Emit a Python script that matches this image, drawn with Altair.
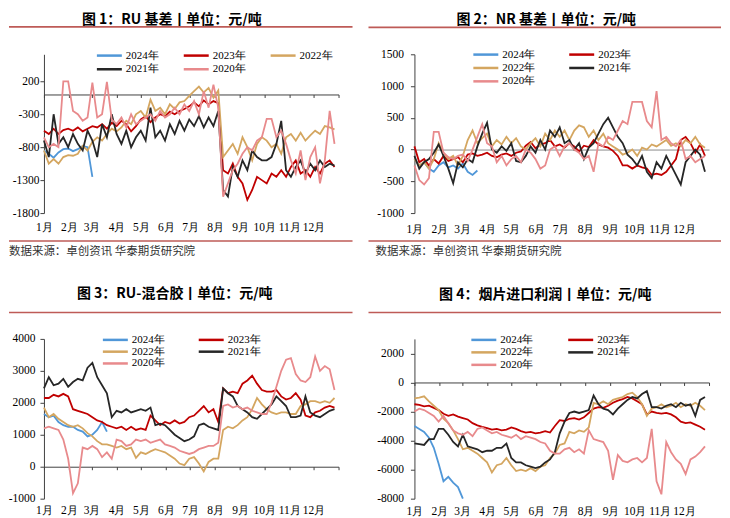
import altair as alt
import pandas as pd

# ---------------- data ----------------
DAYS = list(range(0, 361, 6))  # day of year, every 6 days
YEARS = ["2024年", "2023年", "2022年", "2021年", "2020年"]
COLORS = ["#5097D8", "#C00000", "#D4A660", "#262626", "#E88A8C"]
MONTH_STARTS = [0, 31, 59, 90, 120, 151, 181, 212, 243, 273, 304, 334]
MONTH_NAMES = ["1月", "2月", "3月", "4月", "5月", "6月", "7月", "8月", "9月", "10月", "11月", "12月"]

# 图1 RU基差
RU_2024 = [-850, -900, -960, -880, -830, -820, -860, -830, -780, -800, -1250]
RU_2023 = [
    -550, -600, -520, -600, -540, -520, -550, -500, -560, -520,
    -480, -500, -450, -520, -430, -480, -400, -450, -560, -480,
    -380, -330, -420, -350, -300, -330, -260, -300, -250, -220,
    -180, -120, -180, -90, -150, -100, -130, -1150, -1200, -1050,
    -1250, -1350, -1600, -1450, -1250, -1300, -1350, -1200, -1250, -1150,
    -1250, -1100, -1000, -1200, -1150, -1250, -1100, -1200, -1050, -1000,
    -1100]
RU_2022 = [
    -850, -1050, -980, -1050, -950, -920, -930, -900, -780, -850,
    -720, -650, -700, -600, -520, -560, -500, -400, -450, -300,
    -250, -350, -80, -250, -200, -300, -150, -220, -120, -100,
    -20, 50, 120, 30, 100, -50, 60, -950, -850, -750,
    -900, -650, -800, -1000, -750, -650, -700, -800, -750, -900,
    -650, -600, -700, -580, -700, -620, -550, -600, -480, -500,
    -530]
RU_2021 = [
    -700, -950, -300, -750, -650, -800, -600, -750, -850, -550,
    -700, -950, -450, -650, -300, -600, -750, -550, -800, -650,
    -550, -700, -200, -650, -550, -700, -450, -600, -400, -550,
    -380, -480, -330, -500, -350, -480, -250, -1450, -1550, -1100,
    -1250, -1000, -1150, -850, -950, -1000, -1000, -950, -750, -400,
    -1150, -1250, -1100, -1000, -1200, -1050, -1150, -1000, -1100, -1050,
    -1080]
RU_2020 = [
    -650, -800, -750, -800, 200, 200, -250, -300, -400, -350,
    180, -350, -300, 190, -380, -450, -350, -500, -300, -450,
    -400, -350, -300, -400, -250, -350, -300, -200, -300, -150,
    -250, -100, -300, 50, -200, 150, -200, -1550, -1350, -1150,
    -1050, -900, -800, -850, -700, -650, -370, -370, -650, -550,
    -750, -1000, -1200, -850, -1300, -950, -800, -1350, -1000, -250,
    -750]

# 图2 NR基差
NR_2024 = [-150, -250, -200, -300, -350, -250, -200, -280, -250, -300, -220, -350, -400, -330]
NR_2023 = [
    50, -200, -150, -250, -150, -220, -100, -180, -150, -120,
    -200, -80, -60, -100, -80, -50, -100, -120, -80, -60,
    -100, -50, -30, 60, 120, 20, 80, 100, 150, 50,
    80, 30, 100, 50, -30, 60, 40, 150, 80, 50,
    30, -20, -100, -250, -250, -300, -250, -280, -300, -400,
    -380, -400, -350, -250, -150, 150, 200, 100, -50, 80,
    -100]
NR_2022 = [
    -150, -250, -200, -300, -150, 100, -50, -150, -100, -250,
    -100, 150, 300, 100, 180, 250, 50, 150, 80, 200,
    100, 180, 50, 0, 100, 180, 50, 250, 150, 300,
    200, 300, 150, 300, 380, 350, 200, 300, 150, 250,
    100, 50, 0, -80, -50, 0, -100, 30, 0, 80,
    50, 100, 150, 60, 100, 50, 150, 100, 200, 80,
    30]
NR_2021 = [
    -100, -300, -200, -150, -50, 80, -100, -300, -530, -200,
    -280, -150, -200, 50, 250, 420, 0, -50, 50, -20,
    100, -180, -200, -100, 50, -50, 150, 0, 300, 200,
    350, 100, 150, 0, 100, -150, 30, 100, 250, 400,
    500, 350, 200, 100, -80, -150, -250, -100, -350, -450,
    -200, -300, -100, -250, -400, -550, -200, -100, 0, -80,
    -350]
NR_2020 = [
    -250, -480, -550, -450, 280, 280, -50, -120, -150, -100,
    -80, -180, 0, 200, 400, 100, 50, -200, -100, -250,
    -150, -100, -200, 0, -50, -150, -300, -250, 0, 50,
    -100, 50, 100, 0, -50, -150, -100, -350, 100, 50,
    200, 150, 300, 450, 400, 750, 750, 750, 450, 350,
    920, 150, 200, 100, 50, 150, -150, -100, -200, -150,
    -100]

# 图3 RU-混合胶
MIX_2024 = [1650, 1550, 1600, 1400, 1300, 1250, 1250, 1150, 1100, 950, 1000, 1150, 1400, 1100]
MIX_2023 = [
    2150, 2150, 2250, 2200, 2280, 2200, 1800, 1750, 1700, 1650,
    1550, 1450, 1400, 1300, 1250, 1200, 1250, 1150, 1250, 1150,
    1200, 1150, 1600, 1450, 1300, 1400, 1350, 1450, 1350, 1400,
    1550, 1600, 1750, 1900, 1700, 1800, 1400, 2450, 2300, 2350,
    2300, 2600, 2700, 2850, 2600, 2400, 2350, 2350, 2400, 2200,
    2100, 2150, 2300, 2100, 1600, 1550, 1700, 1750, 1850, 1900,
    1850]
MIX_2022 = [
    1850, 1550, 1650, 1500, 1400, 1300, 1250, 1300, 1200, 1050,
    950, 800, 700, 700, 650, 600, 650, 550, 600, 280,
    450, 400, 480, 550, 500, 450, 350, 250, 100, 50,
    250, 300, 100, -150, 150, 250, 250, 1150, 1250, 1200,
    1300, 1450, 1550, 1800, 2150, 1950, 1800, 1700, 1650, 1700,
    1700, 1650, 1650, 1900, 1950, 2050, 2050, 2000, 2050, 2000,
    2150]
MIX_2021 = [
    2450, 2800, 2550, 2600, 2750, 2500, 2650, 2750, 2700, 3100,
    3250, 2800, 2550, 2300, 1550, 1750, 1700, 1800, 1700, 1750,
    1800, 1750, 1850, 1300, 1350, 1300, 1150, 1000, 900, 800,
    850, 950, 1300, 1350, 1250, 1200, 1150, 2450, 2300, 2200,
    1900, 1800, 1700, 1550, 1500, 1650, 1800, 1950, 2200, 2050,
    1900, 1550, 1550, 1600, 2200, 1700, 1600, 1550, 1650, 1750,
    1800]
MIX_2020 = [
    1200, 1250, 1200, 1150, 850, 250, -830, -520, 600, 550,
    650, 550, 300, 450, 250, 850, 800, 650, 700, 850,
    800, 850, 750, 800, 850, 700, 650, 600, 500, 450,
    400, 450, 550, 600, 650, 650, 750, 1900, 1950, 1850,
    1900, 1800, 1850, 1750, 1700, 1650, 1650, 2000, 2500, 3000,
    3350, 3400, 2900, 2700, 2650, 2800, 3450, 3000, 3150, 3050,
    2400]

# 图4 烟片进口利润
IMP_2024 = [-3000, -3200, -3400, -3800, -4500, -5600, -6800, -6500, -6900, -7200, -8000]
IMP_2023 = [
    -1500, -1550, -1650, -1600, -1750, -1900, -2150, -2300, -2200, -2350,
    -2450, -2550, -2800, -2950, -3050, -3150, -3250, -3200, -3300, -3250,
    -3100, -3200, -3350, -3450, -3400, -3500, -3450, -3350, -3450, -3000,
    -2600, -2650, -2500, -2450, -2550, -2400, -2100, -1800, -1700, -1750,
    -1600, -1400, -1250, -1150, -1000, -1100, -1300, -1500, -2200, -2000,
    -2100, -2150, -2100, -2200, -2400, -2700, -2800, -2750, -2900, -3050,
    -3250]
IMP_2022 = [
    -1100, -1050, -950, -1300, -1600, -1900, -2500, -2800, -3300, -3900,
    -4600, -4500, -4700, -4900, -5200, -5500, -6200, -5700, -5600, -5200,
    -5700, -6100, -6000, -6100, -5900, -6100, -5800, -5700, -5200, -4900,
    -4300, -4200, -3400, -3500, -3300, -3400, -3100, -1400, -1500, -1300,
    -1500, -1200, -1100, -1000, -800, -700, -1000, -1500, -2300, -1800,
    -1700, -1500, -1700, -1600, -1400, -1700, -1500, -1600, -1400, -1600,
    -1900]
IMP_2021 = [
    -4200, -4250, -4300, -3900, -3900, -3200, -3200, -3600, -4100, -4400,
    -3600, -4400, -4500, -4600, -4800, -4700, -4700, -4500, -4500, -4200,
    -5200, -5500, -5500, -5700, -5800, -5900, -5800, -5500, -5300, -4800,
    -3500, -2700, -2100, -2000, -2100, -2000, -1900, -900, -1500, -1800,
    -1900, -2200, -1800, -1500, -1200, -1000, -1100, -800, -600, -1700,
    -1700, -1800, -1600, -1500, -1700, -1400, -1600, -1500, -2300, -1200,
    -1000]
IMP_2020 = [
    -2000, -1800, -1900, -2100, -2300, -2700, -2300, -2800, -3300, -3500,
    -3600, -3400, -3700, -3200, -3100, -3300, -3500, -3400, -3600, -3700,
    -3800, -3600, -3900, -3700, -3800, -3900, -4100, -4200, -4700, -4900,
    -4900, -4600, -4500, -4800, -4600, -4900, -3300, -3900, -4000, -4100,
    -4700, -6700, -5000, -5400, -5500, -5300, -5200, -5500, -5200, -3200,
    -6800, -7700, -4100, -4800, -5300, -5600, -6300, -5300, -5100, -4800,
    -4400]

TITLES = [
    "图 1：RU 基差丨单位：元/吨",
    "图 2：NR 基差丨单位：元/吨",
    "图 3：RU-混合胶丨单位：元/吨",
    "图 4：烟片进口利润丨单位：元/吨",
]
SOURCE = "数据来源：卓创资讯  华泰期货研究院"

# ---------------- styling ----------------
FONT_NUM = "Liberation Serif"
FONT_CJK = "Noto Sans CJK SC"
RULE_COLOR = "#BE5B57"
AXIS_COLOR = "#404040"
W = 295

_starts = "[" + ",".join(str(d) for d in MONTH_STARTS) + "]"
_names = "[" + ",".join("'" + m + "'" for m in MONTH_NAMES) + "]"
LABEL_EXPR = f"indexof({_starts}, datum.value) < 0 ? '' : {_names}[indexof({_starts}, datum.value)]"


def long_frame(series):
    rows = []
    for year, values in zip(YEARS, series):
        for d, v in zip(DAYS, values):
            rows.append({"day": d, "value": v, "year": year})
    return pd.DataFrame(rows)


def one_row(text):
    return pd.DataFrame({"t": [text]})


def legend_layers(x0, y0, col_pitch, row_pitch, cols):
    out = []
    for i, (year, color) in enumerate(zip(YEARS, COLORS)):
        lx = x0 + (i % cols) * col_pitch
        ly = y0 + (i // cols) * row_pitch
        out.append(alt.Chart(one_row(year)).mark_rule(color=color, strokeWidth=2.5).encode(
            x=alt.value(lx), x2=alt.value(lx + 25), y=alt.value(ly)))
        out.append(alt.Chart(one_row(year)).mark_text(
            font=FONT_NUM, fontSize=11, align="left", baseline="middle", color="black").encode(
            text="t:N", x=alt.value(lx + 29), y=alt.value(ly)))
    return out


def panel(series, title, ylo, yhi, yticks, height, tick_on, zero_color, label_gap,
          ylab_pad, leg, title_x, title_y, rule_y, rule_x0, rule_x1, source_pos=None):
    zero_off = height * (0 - ylo) / (yhi - ylo)
    x_axis = alt.Axis(
        values=MONTH_STARTS + [365], labelExpr=LABEL_EXPR, offset=-zero_off,
        domainColor=zero_color, domainWidth=1, ticks=tick_on, tickSize=3,
        tickColor=zero_color, labelPadding=zero_off + label_gap - (3 if tick_on else 0),
        labelFont=FONT_NUM, labelFontSize=11.5, labelColor="black",
        labelFlush=False, labelOverlap=False, grid=False, title=None)
    y_axis = alt.Axis(
        values=yticks, labelExpr="'' + datum.value", domainColor=AXIS_COLOR,
        tickColor=AXIS_COLOR, tickSize=4, labelPadding=ylab_pad, labelFont=FONT_NUM,
        labelFontSize=11.5, labelColor="black", labelFlush=False, grid=False, title=None)
    lines = alt.Chart(long_frame(series)).mark_line(strokeWidth=1.8).encode(
        x=alt.X("day:Q", scale=alt.Scale(domain=[0, 365], nice=False, zero=False), axis=x_axis),
        y=alt.Y("value:Q", scale=alt.Scale(domain=[ylo, yhi], nice=False, zero=False), axis=y_axis),
        color=alt.Color("year:N", scale=alt.Scale(domain=YEARS, range=COLORS), legend=None),
    )
    title_mark = alt.Chart(one_row(title)).mark_text(
        font=FONT_CJK, fontWeight="bold", fontSize=14, align="center",
        baseline="middle", color="black").encode(
        text="t:N", x=alt.value(title_x), y=alt.value(title_y))
    top_rule = alt.Chart(one_row("r")).mark_rule(color=RULE_COLOR, strokeWidth=1.6).encode(
        x=alt.value(rule_x0), x2=alt.value(rule_x1), y=alt.value(rule_y))
    layers = [lines, title_mark, top_rule] + legend_layers(*leg)
    if source_pos is not None:
        bot_y, src_x, src_y = source_pos
        layers.append(alt.Chart(one_row("r")).mark_rule(color=RULE_COLOR, strokeWidth=1.6).encode(
            x=alt.value(rule_x0), x2=alt.value(rule_x1), y=alt.value(bot_y)))
        layers.append(alt.Chart(one_row(SOURCE)).mark_text(
            font=FONT_CJK, fontSize=11.5, align="left", baseline="middle", color="#333333").encode(
            text="t:N", x=alt.value(src_x), y=alt.value(src_y)))
    return alt.layer(*layers).properties(width=W, height=height)


p1 = panel([RU_2024, RU_2023, RU_2022, RU_2021, RU_2020], TITLES[0], -1800, 610,
           [-1800, -1300, -800, -300, 200], 159, True, AXIS_COLOR, 8.7, 1,
           (53, 1.3, 87, 13.7, 3), 128, -34.5, -27.5, -35, 309, (187, -35, 197.5))
p2 = panel([NR_2024, NR_2023, NR_2022, NR_2021, NR_2020], TITLES[1], -1000, 1500,
           [-1000, -500, 0, 500, 1000, 1500], 159, False, "#8C8C8C", 10, 7,
           (59, 0.3, 96, 13.4, 2), 132, -34.5, -27, -46, 307, (187, -39, 197.5))
p3 = panel([MIX_2024, MIX_2023, MIX_2022, MIX_2021, MIX_2020], TITLES[2], -1000, 4000,
           [-1000, 0, 1000, 2000, 3000, 4000], 160, True, AXIS_COLOR, 5.7, 5,
           (59, 1, 96, 11.8, 2), 131, -44.5, -26.5, -35, 309)
p4 = panel([IMP_2024, IMP_2023, IMP_2022, IMP_2021, IMP_2020], TITLES[3], -8000, 3000,
           [-8000, -6000, -4000, -2000, 0, 2000], 160, True, AXIS_COLOR, 6.7, 7,
           (57, 1, 97, 12.5, 2), 131, -43.5, -26.5, -46, 307)

chart = alt.concat(
    p1, p2, p3, p4, columns=2, spacing={"row": 126, "column": 76}, bounds="flush"
).resolve_scale(color="independent").configure_view(stroke=None).properties(
    padding={"left": 0, "top": 4, "right": 0, "bottom": 0}, background="white")

chart.save("out.html", embed_options={"renderer": "svg", "actions": False})
